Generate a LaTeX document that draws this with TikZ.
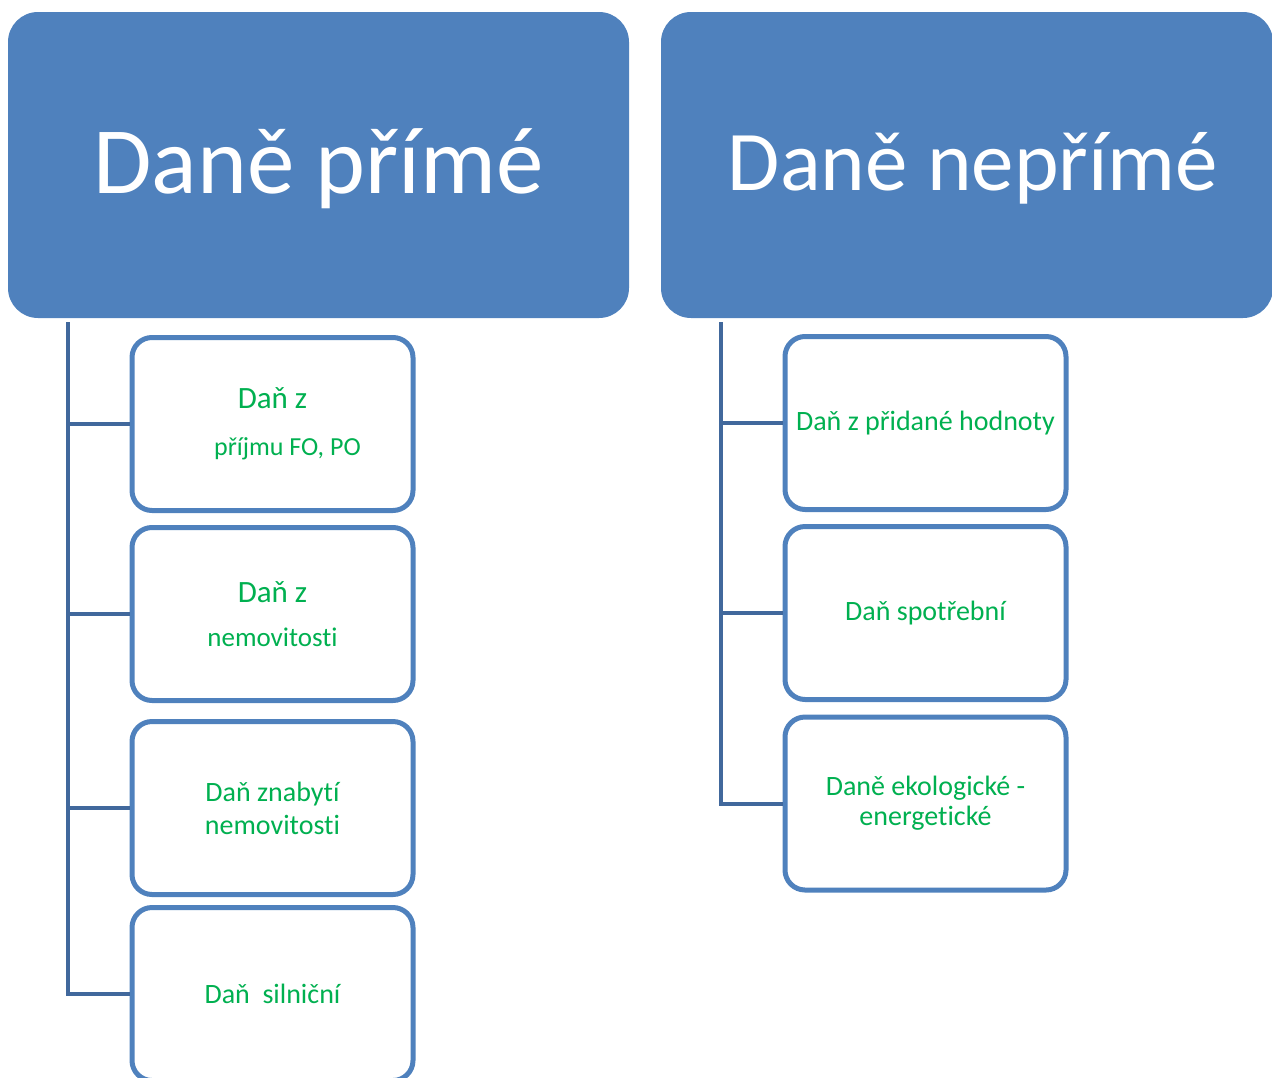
\documentclass[tikz,border=0pt]{standalone}
\usepackage{fontspec}
\setmainfont[Ligatures=NoCommon]{Carlito}
\definecolor{hdrblue}{HTML}{4F81BD}
\definecolor{connblue}{HTML}{41689C}
\definecolor{txtgreen}{HTML}{00B050}
\begin{document}
\begin{tikzpicture}[x=1pt,y=-1pt,
  header/.style={fill=hdrblue,draw=none,rounded corners=30pt,minimum width=621pt,minimum height=306pt,text=white,inner sep=0pt},
  item/.style={draw=hdrblue,line width=5pt,fill=white,rounded corners=20pt,minimum width=281pt,minimum height=173pt,text=txtgreen,align=center,inner sep=0pt,font=\fontsize{28}{33}\selectfont},
  conn/.style={draw=connblue,line width=4pt}]
\useasboundingbox (0,0) rectangle (1272,1077);
% headers
\node[header,text height=60pt,text depth=4pt,font=\fontsize{95}{100}\selectfont] (h1) at (318.5,165) {Daně přímé};
\node[header,minimum width=612pt,text height=54pt,text depth=4pt,font=\fontsize{85}{90}\selectfont] (h2) at (967,165) {\hspace*{12pt}Daně nepřímé};
% left boxes
\node[item] (l1) at (272.5,424) {{\fontsize{31}{34}\selectfont Daň z}\\[14pt]{\fontsize{26}{30}\selectfont\hspace*{30pt}příjmu FO, PO}};
\node[item] (l2) at (272.5,614) {{\fontsize{31}{34}\selectfont Daň z}\\[11pt]{\fontsize{27}{30}\selectfont nemovitosti}};
\node[item] (l3) at (272.5,808) {Daň znabytí\\nemovitosti};
\node[item] (l4) at (272.5,994) {Daň~ silniční};
% right boxes
\node[item] (r1) at (925.5,423) {Daň z přidané hodnoty};
\node[item] (r2) at (925.5,613) {Daň spotřební};
\node[item,font=\fontsize{28}{30}\selectfont] (r3) at (925.5,803.5) {Daně ekologické -\\energetické};
% connectors
\coordinate (lt) at (68,322);
\coordinate (rt) at (721,322);
\path[conn] (lt) |- (l4.west);
\path[conn] (lt |- l1.west) -- (l1.west);
\path[conn] (lt |- l2.west) -- (l2.west);
\path[conn] (lt |- l3.west) -- (l3.west);
\path[conn] (rt) |- (r3.west);
\path[conn] (rt |- r1.west) -- (r1.west);
\path[conn] (rt |- r2.west) -- (r2.west);
\end{tikzpicture}
\end{document}
